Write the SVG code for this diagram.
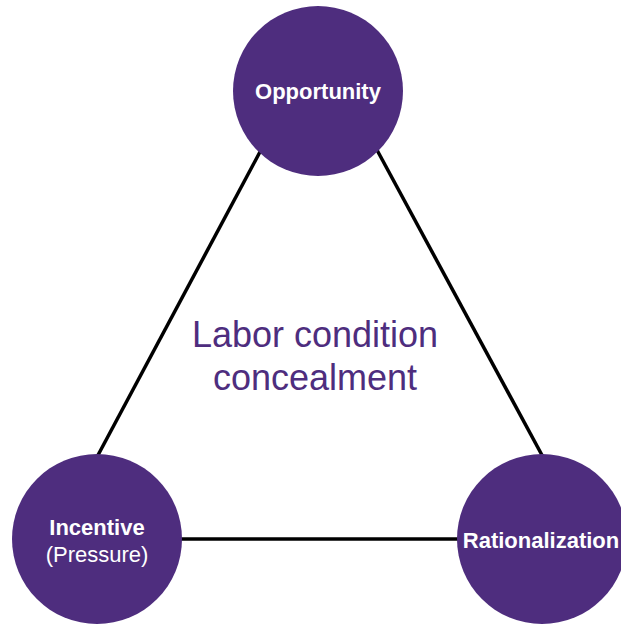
<svg xmlns="http://www.w3.org/2000/svg" width="621" height="624" viewBox="0 0 621 624">
<style>
.node{fill:#4E2D7E}
.lbl{font-family:"Liberation Sans",Arial,sans-serif;fill:#fff;text-anchor:middle;font-size:22px}
.b{font-weight:bold}
.edge{stroke:#000;stroke-width:3.5;fill:none}
.center{font-family:"Liberation Sans",Arial,sans-serif;fill:#4E2D7E;text-anchor:middle;font-size:36px}
</style>
<rect width="621" height="624" fill="#fff"/>
<g id="connectors">
<line class="edge" x1="261" y1="150" x2="97" y2="457"/>
<line class="edge" x1="377" y1="150" x2="543" y2="457"/>
<line class="edge" x1="180" y1="539" x2="463" y2="539"/>
</g>
<g id="opportunity">
<circle class="node" cx="318" cy="91" r="85"/>
<text class="lbl b" x="318" y="99">Opportunity</text>
</g>
<g id="incentive">
<circle class="node" cx="97" cy="539" r="85"/>
<text class="lbl b" x="97" y="535">Incentive</text>
<text class="lbl" x="97" y="562">(Pressure)</text>
</g>
<g id="rationalization">
<circle class="node" cx="542" cy="539" r="85"/>
<text class="lbl b" x="541" y="548">Rationalization</text>
</g>
<g id="label">
<text class="center" x="315" y="347">Labor condition</text>
<text class="center" x="315" y="390">concealment</text>
</g>
</svg>
